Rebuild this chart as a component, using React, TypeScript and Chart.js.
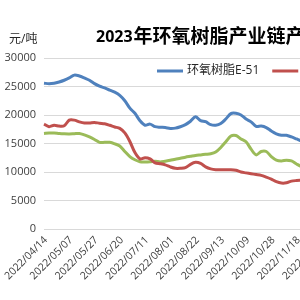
import React, { useEffect, useRef } from "react";
import { Chart, registerables } from "chart.js";

Chart.register(...registerables);

const titleYear = "2023";
const titleRest = "年环氧树脂产业链产品价格走势";
const unitText = "元/吨";
const seriesNames = ["环氧树脂E-51", "双酚A", "环氧氯丙烷"];
const seriesColors = ["#4f81bd", "#c0504d", "#9bbb59"];

const tickDates = [
  "2022/04/14", "2022/05/07", "2022/05/27", "2022/06/20", "2022/07/11", "2022/08/01",
  "2022/08/22", "2022/09/13", "2022/10/09", "2022/10/28", "2022/11/18", "2022/12/09",
];

const e51 = [
  25580, 25500, 25580, 25800, 26100, 26500, 27000, 26850, 26500, 26100,
  25500, 25050, 24750, 24350, 24000, 23450, 22500, 21200, 20300, 19000,
  18200, 18400, 17950, 17850, 17800, 17650, 17700, 17940, 18300, 18900,
  19700, 19000, 18820, 18300, 18200, 18500, 19300, 20250, 20300, 20000,
  19300, 18800, 18000, 18050, 17800, 17200, 16700, 16450, 16450, 16150,
  15800, 15450, 15300, 15200, 15100, 15300, 15400, 15200, 15000, 14900,
];

const bpa = [
  18400, 17950, 18200, 18060, 18100, 19100, 19100, 18800, 18600, 18600,
  18700, 18550, 18450, 18200, 17900, 17650, 16850, 15350, 13400, 12300,
  12500, 12300, 11600, 11450, 11250, 10900, 10650, 10650, 10750, 11350,
  11700, 11500, 10900, 10550, 10400, 10400, 10400, 10400, 10300, 10000,
  9850, 9700, 9550, 9400, 9100, 8750, 8300, 8060, 8100, 8400,
  8500, 8550, 8600, 8700, 8650, 8700, 8800, 8750, 8700, 8650,
];

const ech = [
  16760, 16850, 16850, 16760, 16700, 16680, 16720, 16760, 16500, 16150,
  15700, 15200, 15200, 15200, 14950, 14550, 13600, 12700, 12150, 11800,
  11760, 11800, 11900, 11760, 11900, 12050, 12250, 12400, 12600, 12750,
  12900, 13000, 13100, 13200, 13500, 14300, 15300, 16300, 16400, 15800,
  15300, 14000, 13000, 13600, 13600, 12700, 12100, 11950, 12050, 11950,
  11400, 10950, 10800, 10900, 11100, 11000, 10800, 10700, 10900, 11000,
];

const yTicks = [0, 5000, 10000, 15000, 20000, 25000, 30000];

const FONT = "'Open Sans', 'Noto Sans CJK SC', sans-serif";

const overlayPlugin = {
  id: "overlay",
  afterDraw(chart: any) {
    const ctx = chart.ctx;
    ctx.save();
    ctx.fillStyle = "#000000";
    ctx.textBaseline = "middle";
    ctx.textAlign = "left";
    ctx.font = `bold 16px 'Open Sans', sans-serif`;
    ctx.fillText(titleYear, 96, 37);
    const w = ctx.measureText(titleYear).width;
    ctx.font = `bold 19px 'Noto Sans CJK SC', sans-serif`;
    ctx.fillText(titleRest, 96 + w + 1, 36);
    ctx.fillStyle = "#262626";
    ctx.font = `12px ${FONT}`;
    ctx.fillText(unitText, 9, 40);
    // legend
    let x = 157;
    const y = 71;
    ctx.font = `12px ${FONT}`;
    chart.data.datasets.forEach((ds: any) => {
      ctx.strokeStyle = ds.borderColor;
      ctx.lineWidth = 3;
      ctx.beginPath();
      ctx.moveTo(x, y);
      ctx.lineTo(x + 26, y);
      ctx.stroke();
      ctx.fillStyle = "#262626";
      ctx.fillText(ds.label, x + 30, y);
      x += 30 + ctx.measureText(ds.label).width + 13;
    });
    ctx.restore();
  },
};

export default function App() {
  const ref = useRef<HTMLCanvasElement>(null);
  useEffect(() => {
    const labels = e51.map((_, i) => (i % 5 === 0 ? tickDates[i / 5] : ""));
    const series = [e51, bpa, ech];
    const chart = new Chart(ref.current!, {
      type: "line",
      data: {
        labels,
        datasets: series.map((d, i) => ({
          label: seriesNames[i],
          data: d,
          borderColor: seriesColors[i],
          backgroundColor: seriesColors[i],
          borderWidth: 3,
          pointRadius: 0,
          tension: 0.3,
          fill: false,
        })),
      },
      options: {
        responsive: false,
        animation: false,
        devicePixelRatio: 1,
        layout: { padding: { top: 58, right: 10, bottom: 0, left: 0 } },
        plugins: { legend: { display: false }, title: { display: false }, tooltip: { enabled: false } },
        scales: {
          x: {
            grid: { display: false, drawTicks: false },
            border: { display: false },
            ticks: {
              autoSkip: false,
              minRotation: 45,
              maxRotation: 45,
              padding: 5,
              labelOffset: 2,
              color: "#404040",
              font: { size: 10.5, family: FONT },
              callback: (_v: any, i: number) => labels[i],
            },
            afterFit: (s: any) => {
              s.height = 71;
              s.paddingLeft = 0;
              s.paddingRight = 0;
            },
          },
          y: {
            min: 0,
            max: 30000,
            afterBuildTicks: (s: any) => {
              s.ticks = yTicks.map((v) => ({ value: v }));
            },
            grid: { color: "#d9d9d9", lineWidth: 1, drawTicks: false },
            border: { display: false },
            ticks: {
              padding: 8,
              color: "#404040",
              font: { size: 11, family: FONT },
              callback: (v: any) => String(v),
            },
            afterFit: (s: any) => {
              s.width = 44;
            },
          },
        },
      },
      plugins: [overlayPlugin],
    });
    return () => chart.destroy();
  }, []);
  return (
    <div
      style={{
        position: "fixed",
        left: 0,
        top: 0,
        width: 300,
        height: 300,
        overflow: "hidden",
        background: "#ffffff",
      }}
    >
      <canvas ref={ref} width={352} height={300} style={{ display: "block" }} />
    </div>
  );
}
